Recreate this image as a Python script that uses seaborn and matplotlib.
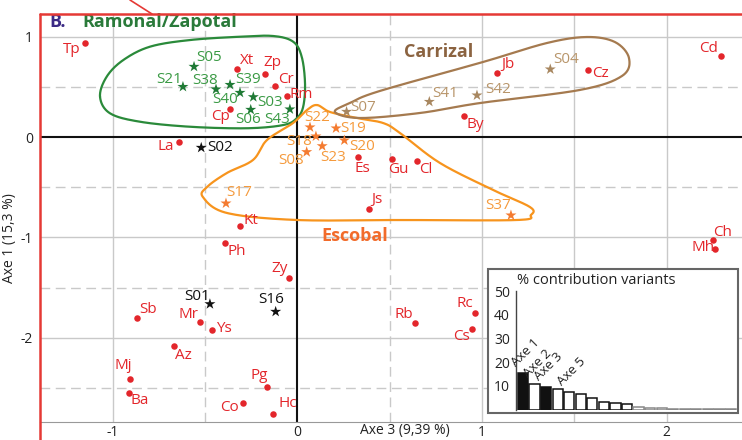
import numpy as np
import pandas as pd
import matplotlib
matplotlib.use('Agg')
import matplotlib.pyplot as plt
import seaborn as sns
from matplotlib.lines import Line2D
from matplotlib.patches import Rectangle

sns.set_style('white')
plt.rcParams['font.family'] = ['Open Sans', 'DejaVu Sans']
plt.rcParams['axes.unicode_minus'] = False

# variants (red dots)
var_names = ['Tp', 'Xt', 'Zp', 'Cr', 'Rm', 'Cp', 'La', 'Jb', 'Cz', 'Cd', 'By', 'Es', 'Gu', 'Cl',
             'Js', 'Kt', 'Ph', 'Zy', 'Sb', 'Mr', 'Ys', 'Az', 'Mj', 'Ba', 'Pg', 'Co', 'Hc',
             'Rb', 'Rc', 'Cs', 'Ch', 'Mh']
var_x = [-1.152, -0.325, -0.174, -0.119, -0.054, -0.364, -0.639, 1.083, 1.576, 2.292, 0.904,
         0.327, 0.511, 0.648, 0.386, -0.309, -0.390, -0.043, -0.868, -0.528, -0.463, -0.668,
         -0.907, -0.913, -0.162, -0.294, -0.133, 0.639, 0.960, 0.946, 2.249, 2.263]
var_y = [0.932, 0.677, 0.627, 0.511, 0.411, 0.282, -0.050, 0.640, 0.667, 0.806, 0.206,
         -0.202, -0.216, -0.239, -0.713, -0.889, -1.055, -1.400, -1.801, -1.838, -1.920, -2.080,
         -2.405, -2.544, -2.488, -2.650, -2.756, -1.848, -1.749, -1.913, -1.025, -1.111]

# sites (stars)
site_names = ['S05', 'S21', 'S38', 'S39', 'S40', 'S03', 'S06', 'S43',
              'S22', 'S18', 'S08', 'S23', 'S19', 'S20', 'S37', 'S17',
              'S07', 'S41', 'S42', 'S04',
              'S02', 'S01', 'S16']
site_x = [-0.559, -0.619, -0.440, -0.364, -0.310, -0.238, -0.252, -0.040,
          0.069, 0.101, 0.051, 0.135, 0.210, 0.255, 1.157, -0.386,
          0.267, 0.715, 0.973, 1.370,
          -0.520, -0.473, -0.117]
site_y = [0.700, 0.500, 0.475, 0.520, 0.441, 0.398, 0.272, 0.276,
          0.097, 0.007, -0.149, -0.090, 0.087, -0.033, -0.779, -0.660,
          0.252, 0.351, 0.415, 0.674,
          -0.106, -1.662, -1.738]
site_group = ['Ramonal/Zapotal'] * 8 + ['Escobal'] * 8 + ['Carrizal'] * 4 + ['none'] * 3

# % contribution per axis (inset)
contrib = [15.3, 10.8, 9.39, 8.6, 7.5, 6.8, 5.0, 3.4, 3.0, 2.4, 1.3, 0.9, 0.9,
           0.3, 0.3, 0.3, 0.3, 0.3, 0.3]
contrib_labels = {0: 'Axe 1', 1: 'Axe 2', 2: 'Axe 3', 4: 'Axe 5'}

# label offsets in pixels (dx, dy up)
var_off = {'Tp': (-13, -6), 'Xt': (10, 8), 'Zp': (7, 11), 'Cr': (11, 6), 'Rm': (14, 1),
           'Cp': (-10, -8), 'La': (-14, -4), 'Jb': (11, 8), 'Cz': (12, -4), 'Cd': (-12, 8),
           'By': (11, -8), 'Es': (5, -11), 'Gu': (7, -11), 'Cl': (9, -8), 'Js': (8, 9),
           'Kt': (11, 6), 'Ph': (12, -8), 'Zy': (-10, 9), 'Sb': (11, 8), 'Mr': (-11, 7),
           'Ys': (12, 1), 'Az': (10, -9), 'Mj': (-7, 13), 'Ba': (11, -8), 'Pg': (-8, 12),
           'Co': (-13, -4), 'Hc': (15, 10), 'Rb': (-11, 8), 'Rc': (-10, 9), 'Cs': (-10, -7),
           'Ch': (10, 8), 'Mh': (-12, 1)}
site_off = {'S05': (15, 9), 'S21': (-14, 7), 'S38': (-11, 9), 'S39': (18, 5), 'S40': (-15, -7),
            'S03': (17, -5), 'S06': (-3, -10), 'S43': (-13, -10), 'S22': (7, 10),
            'S18': (-17, -5), 'S08': (-16, -9), 'S23': (11, -11), 'S19': (17, 0),
            'S20': (18, -6), 'S37': (-13, 10), 'S17': (13, 11), 'S07': (17, 4),
            'S41': (16, 8), 'S42': (21, 6), 'S04': (16, 10), 'S02': (19, 0),
            'S01': (-13, 8), 'S16': (-4, 12)}

# group envelopes (hand traced outline)
green_hull = [(-1.068, 0.401), (-1.032, 0.600), (-0.942, 0.766), (-0.797, 0.899), (-0.581, 0.965),
              (-0.310, 0.998), (-0.130, 1.005), (-0.022, 0.948), (0.024, 0.799), (0.042, 0.534),
              (0.032, 0.301), (-0.003, 0.186), (-0.076, 0.119), (-0.274, 0.087), (-0.581, 0.102),
              (-0.852, 0.152), (-1.014, 0.236)]
orange_hull = [(0.107, 0.318), (0.177, 0.249), (0.323, 0.189), (0.465, 0.139), (0.556, 0.040),
               (0.773, -0.259), (1.060, -0.527), (1.260, -0.697), (1.265, -0.776), (1.190, -0.826),
               (0.556, -0.826), (0.0, -0.826), (-0.381, -0.756), (-0.511, -0.597), (-0.489, -0.498),
               (-0.381, -0.358), (-0.240, -0.229), (-0.164, -0.030), (-0.023, 0.139), (0.053, 0.269)]
brown_hull = [(0.204, 0.249), (0.285, 0.338), (0.447, 0.458), (1.005, 0.746), (1.351, 0.935),
              (1.568, 0.995), (1.720, 0.945), (1.796, 0.786), (1.758, 0.607), (1.530, 0.468),
              (0.989, 0.338), (0.665, 0.239), (0.339, 0.189)]

RED = '#e3262b'
star_col = {'Ramonal/Zapotal': '#1f7a35', 'Escobal': '#f47b30', 'Carrizal': '#a88760', 'none': '#111111'}
lab_col = {'Ramonal/Zapotal': '#3a9a44', 'Escobal': '#f59a3c', 'Carrizal': '#b8956a', 'none': '#111111'}


def smooth_closed(pts, n=24):
    p = np.asarray(pts, dtype=float)
    N = len(p)
    t = np.linspace(0, 1, n, endpoint=False)[:, None]
    segs = []
    for i in range(N):
        p0, p1, p2, p3 = p[i - 1], p[i], p[(i + 1) % N], p[(i + 2) % N]
        segs.append(0.5 * (2 * p1 + (-p0 + p2) * t + (2 * p0 - 5 * p1 + 4 * p2 - p3) * t ** 2
                           + (-p0 + 3 * p1 - 3 * p2 + p3) * t ** 3))
    out = np.vstack(segs)
    return np.vstack([out, out[:1]])


W, H = 742, 440
fig = plt.figure(figsize=(W / 100, H / 100), dpi=100)
ax = fig.add_axes([40 / W, (H - 422.3) / H, (W - 40) / W, (422.3 - 14) / H])
ax.set_xlim(-1.393, 2.408)
ax.set_ylim(-2.839, 1.224)

# grid
dash = (0, (7, 4))
for gx in [-1, 1, 1.5, 2]:
    ax.axvline(gx, color='#c9c9c9', lw=1, zorder=0)
for gx in [-0.5, 0.5]:
    ax.axvline(gx, color='#c9c9c9', lw=1, ls=dash, zorder=0)
for gy in [1, -1, -2]:
    ax.axhline(gy, color='#c9c9c9', lw=1, zorder=0)
for gy in [0.5, -0.5, -1.5, -2.5]:
    ax.axhline(gy, color='#c9c9c9', lw=1, ls=dash, zorder=0)
ax.axvline(0, color='#111111', lw=1.5, zorder=1)
ax.axhline(0, color='#111111', lw=1.5, zorder=1)

# envelopes
for hull, col in [(green_hull, '#2a8a3a'), (orange_hull, '#f7941d'), (brown_hull, '#a57a4f')]:
    sm = smooth_closed(hull)
    ax.plot(sm[:, 0], sm[:, 1], color=col, lw=1.6, zorder=2)

variants = pd.DataFrame({'name': var_names, 'x': var_x, 'y': var_y})
sites = pd.DataFrame({'name': site_names, 'x': site_x, 'y': site_y, 'group': site_group})

sns.scatterplot(data=variants, x='x', y='y', color=RED, s=22, linewidth=0, ax=ax, zorder=3)
sns.scatterplot(data=sites, x='x', y='y', hue='group', palette=star_col, marker='*', s=70,
                linewidth=0, legend=False, ax=ax, zorder=3)

for _, r in variants.iterrows():
    ax.annotate(r['name'], (r['x'], r['y']), xytext=var_off[r['name']], textcoords='offset pixels',
                ha='center', va='center', color=RED, fontsize=11, zorder=4)
for _, r in sites.iterrows():
    ax.annotate(r['name'], (r['x'], r['y']), xytext=site_off[r['name']], textcoords='offset pixels',
                ha='center', va='center', color=lab_col[r['group']], fontsize=11, zorder=4)

ax.text(-1.300, 1.144, 'B.', color='#3b2a85', fontsize=13, fontweight='bold', ha='center', va='center')
ax.text(-0.743, 1.144, 'Ramonal/Zapotal', color='#2a7a3a', fontsize=13, fontweight='bold',
        ha='center', va='center')
ax.text(0.767, 0.843, 'Carrizal', color='#8b6340', fontsize=13, fontweight='bold', ha='center', va='center')
ax.text(0.313, -0.985, 'Escobal', color='#f26b2a', fontsize=13, fontweight='bold', ha='center', va='center')

# axes styling
ax.set_xticks([-1, 0, 1, 2])
ax.set_yticks([1, 0, -1, -2])
ax.set_xticklabels(['-1', '0', '1', '2'])
ax.set_yticklabels(['1', '0', '-1', '-2'])
ax.tick_params(axis='both', length=0, labelsize=10, colors='#222222')
ax.tick_params(axis='x', pad=2)
ax.tick_params(axis='y', pad=5)
ax.set_xlabel('')
ax.set_ylabel('')
ax.text(0.58, -0.019, 'Axe 3 (9,39 %)', transform=ax.get_xaxis_transform(), ha='center', va='center',
        fontsize=10, color='#222222')
fig.text(10 / W, 1 - 238 / H, 'Axe 1 (15,3 %)', rotation=90, ha='center', va='center',
         fontsize=10, color='#222222')
ax.spines['right'].set_visible(False)
ax.spines['left'].set_visible(False)
ax.spines['top'].set_visible(False)
ax.spines['bottom'].set_color('#999999')

# red panel frame
fig.add_artist(Line2D([40 / W, 40 / W], [0, 1 - 14 / H], color='#e53935', lw=1.8))
fig.add_artist(Line2D([40 / W, 1], [1 - 14 / H, 1 - 14 / H], color='#e53935', lw=1.8))
fig.add_artist(Line2D([130 / W, 152 / W], [1.0, 1 - 14 / H], color='#e53935', lw=1.2))

# inset: % contribution
fig.add_artist(Rectangle((487.5 / W, 1 - 413 / H), (738 - 487.5) / W, (413 - 269) / H,
                         transform=fig.transFigure, facecolor='white', edgecolor='#666666', lw=1.5,
                         zorder=5))
n = len(contrib)
x_left_px, x_right_px = 515.5, 736.8
iax = fig.add_axes([x_left_px / W, 1 - 409.7 / H, (x_right_px - x_left_px) / W, (409.7 - 291) / H],
                   zorder=6)
iax.patch.set_alpha(0)
cdf = pd.DataFrame({'axis': np.arange(n), 'pct': contrib})
sns.barplot(data=cdf, x='axis', y='pct', color='white', width=0.88, ax=iax)
for i, bar in enumerate(iax.patches):
    bar.set_facecolor('#111111' if i in (0, 2) else 'white')
    bar.set_edgecolor('#111111' if i < 10 else '#888888')
    bar.set_linewidth(1.1)
for i, lab in contrib_labels.items():
    iax.text(i - 0.42, contrib[i] + 1.8, lab, rotation=45, rotation_mode='anchor', ha='left',
             va='bottom', fontsize=9.5, color='#222222')
iax.set_xlim(-0.65, n - 0.5)
iax.set_ylim(0, 50)
iax.set_yticks([10, 20, 30, 40, 50])
iax.set_xticks([])
iax.set_xlabel('')
iax.set_ylabel('')
iax.tick_params(axis='y', length=3, width=1, color='#444444', labelsize=10, labelcolor='#222222', pad=1)
for s in ['top', 'right', 'bottom']:
    iax.spines[s].set_visible(False)
iax.spines['left'].set_color('#444444')
iax.spines['left'].set_linewidth(1)
fig.text(517 / W, 1 - 280 / H, '% contribution variants', ha='left', va='center', fontsize=10.5,
         color='#222222', zorder=7)

fig.savefig('out.png', dpi=100)
